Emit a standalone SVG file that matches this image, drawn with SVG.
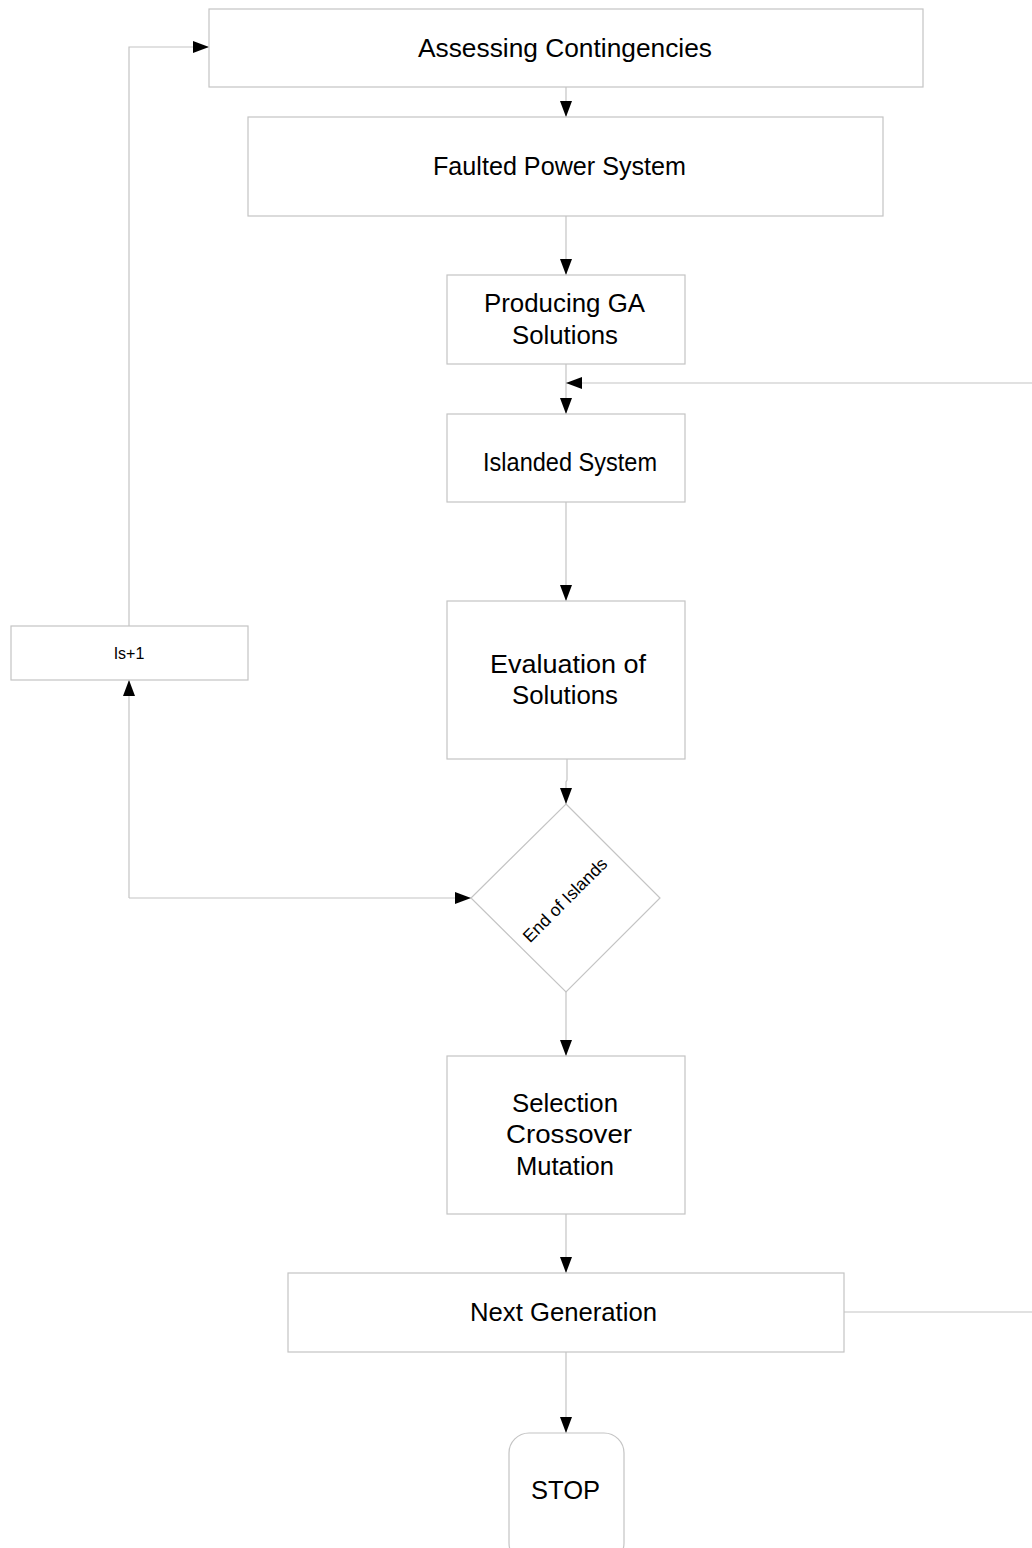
<svg xmlns="http://www.w3.org/2000/svg" width="1032" height="1548" viewBox="0 0 1032 1548">
  <style>
    .box { fill: #ffffff; stroke: #c4c4c4; stroke-width: 1.2; }
    .lbl { font-family: "Liberation Sans", Arial, sans-serif; font-size: 26px; fill: #000; text-anchor: middle; }
    .small { font-size: 16px; }
    .wire { fill: none; stroke: #c4c4c4; stroke-width: 1.2; }
  </style>
  <defs>
    <marker id="arrow" viewBox="0 0 16 12" refX="16" refY="6" markerWidth="16" markerHeight="12" markerUnits="userSpaceOnUse" orient="auto">
      <path d="M0,0 L16,6 L0,12 Z" fill="#000"/>
    </marker>
  </defs>
  <rect width="1032" height="1548" fill="#ffffff"/>

  <g id="connectors">
    <path class="wire" d="M566,87 L566,117" marker-end="url(#arrow)"/>
    <path class="wire" d="M566,216 L566,275" marker-end="url(#arrow)"/>
    <path class="wire" d="M566,364 L566,414" marker-end="url(#arrow)"/>
    <path class="wire" d="M1032,383 L566,383" marker-end="url(#arrow)"/>
    <path class="wire" d="M566,502 L566,601" marker-end="url(#arrow)"/>
    <path class="wire" d="M567,759 L567,780 L566,782 L566,804" marker-end="url(#arrow)"/>
    <path class="wire" d="M129,898 L471,898" marker-end="url(#arrow)"/>
    <path class="wire" d="M129,898 L129,680" marker-end="url(#arrow)"/>
    <path class="wire" d="M129,626 L129,47 L209,47" marker-end="url(#arrow)"/>
    <path class="wire" d="M566,992 L566,1056" marker-end="url(#arrow)"/>
    <path class="wire" d="M566,1214 L566,1273" marker-end="url(#arrow)"/>
    <path class="wire" d="M844,1312 L1032,1312"/>
    <path class="wire" d="M566,1352 L566,1433" marker-end="url(#arrow)"/>
  </g>

  <g id="assessing">
    <rect class="box" x="209" y="9" width="714" height="78"/>
    <text class="lbl" x="565" y="57" textLength="294" lengthAdjust="spacingAndGlyphs">Assessing Contingencies</text>
  </g>
  <g id="faulted">
    <rect class="box" x="248" y="117" width="635" height="99"/>
    <text class="lbl" x="559.5" y="175" textLength="253" lengthAdjust="spacingAndGlyphs">Faulted Power System</text>
  </g>
  <g id="producing">
    <rect class="box" x="447" y="275" width="238" height="89"/>
    <text class="lbl" x="564.5" y="312" textLength="161" lengthAdjust="spacingAndGlyphs">Producing GA</text>
    <text class="lbl" x="565" y="344" textLength="106" lengthAdjust="spacingAndGlyphs">Solutions</text>
  </g>
  <g id="islanded">
    <rect class="box" x="447" y="414" width="238" height="88"/>
    <text class="lbl" x="570" y="471" textLength="174" lengthAdjust="spacingAndGlyphs">Islanded System</text>
  </g>
  <g id="evaluation">
    <rect class="box" x="447" y="601" width="238" height="158"/>
    <text class="lbl" x="568" y="673" textLength="156" lengthAdjust="spacingAndGlyphs">Evaluation of</text>
    <text class="lbl" x="565" y="704" textLength="106" lengthAdjust="spacingAndGlyphs">Solutions</text>
  </g>
  <g id="end-of-islands">
    <path class="box" d="M566,804 L660,898 L566,992 L471,898 Z"/>
    <text class="lbl" style="font-size:17.5px" x="565" y="906" transform="rotate(-45 565 900)">End of Islands</text>
  </g>
  <g id="is-plus-1">
    <rect class="box" x="11" y="626" width="237" height="54"/>
    <text class="lbl small" x="129" y="659">Is+1</text>
  </g>
  <g id="selection">
    <rect class="box" x="447" y="1056" width="238" height="158"/>
    <text class="lbl" x="565" y="1112" textLength="106" lengthAdjust="spacingAndGlyphs">Selection</text>
    <text class="lbl" x="569" y="1143" textLength="126" lengthAdjust="spacingAndGlyphs">Crossover</text>
    <text class="lbl" x="565" y="1175" textLength="98" lengthAdjust="spacingAndGlyphs">Mutation</text>
  </g>
  <g id="next-generation">
    <rect class="box" x="288" y="1273" width="556" height="79"/>
    <text class="lbl" x="563.5" y="1321" textLength="187" lengthAdjust="spacingAndGlyphs">Next Generation</text>
  </g>
  <g id="stop">
    <rect class="box" x="509" y="1433" width="115" height="130" rx="20" ry="20"/>
    <text class="lbl" x="565.5" y="1499" textLength="69" lengthAdjust="spacingAndGlyphs">STOP</text>
  </g>
</svg>
